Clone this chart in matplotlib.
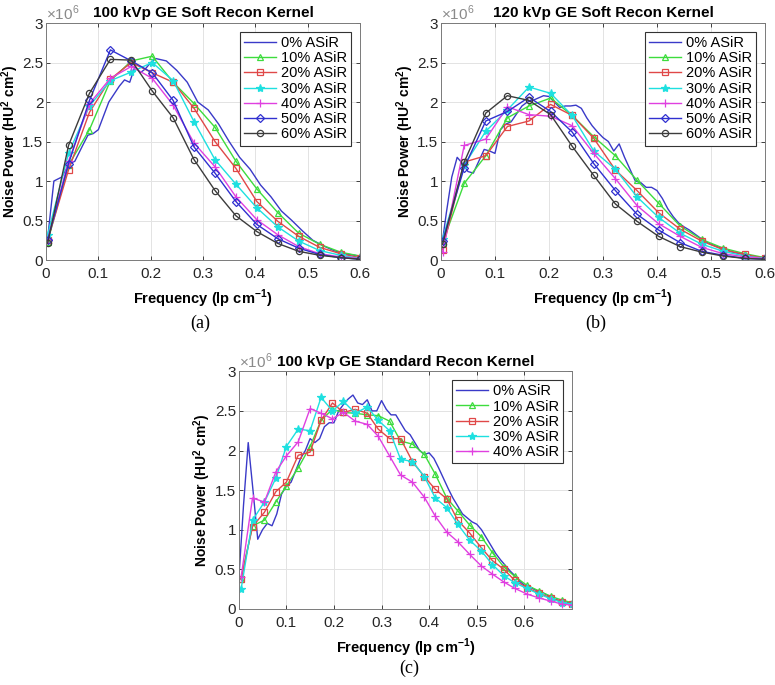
import matplotlib.pyplot as plt
import numpy as np
from matplotlib.ticker import FuncFormatter, MultipleLocator

plt.rcParams['font.family'] = ['Liberation Sans', 'DejaVu Sans']
plt.rcParams['mathtext.fontset'] = 'custom'
plt.rcParams['mathtext.rm'] = 'Liberation Sans'
plt.rcParams['mathtext.bf'] = 'Liberation Sans:bold'

# ---------------- data (values in units of 1e6 HU^2 cm^2) ----------------
# panel (a): 100 kVp soft kernel
fa_m = [0.003, 0.043, 0.083, 0.123, 0.163, 0.203, 0.243, 0.283, 0.323, 0.363,
        0.403, 0.443, 0.483, 0.523, 0.563, 0.600]
a10 = [0.23, 1.20, 1.65, 2.27, 2.52, 2.58, 2.25, 1.98, 1.68, 1.25, 0.90, 0.60, 0.34, 0.20, 0.10, 0.05]
a20 = [0.25, 1.14, 1.87, 2.29, 2.50, 2.37, 2.25, 1.92, 1.50, 1.16, 0.74, 0.49, 0.30, 0.16, 0.08, 0.03]
a30 = [0.32, 1.35, 1.95, 2.27, 2.38, 2.50, 2.27, 1.75, 1.27, 0.96, 0.66, 0.42, 0.24, 0.12, 0.06, 0.02]
a40 = [0.26, 1.25, 1.98, 2.30, 2.45, 2.30, 1.96, 1.48, 1.18, 0.80, 0.51, 0.32, 0.17, 0.08, 0.04, 0.02]
a50 = [0.25, 1.22, 2.02, 2.66, 2.52, 2.37, 2.02, 1.43, 1.10, 0.74, 0.45, 0.27, 0.15, 0.07, 0.03, 0.01]
a60 = [0.21, 1.45, 2.11, 2.54, 2.53, 2.14, 1.80, 1.27, 0.88, 0.56, 0.36, 0.21, 0.11, 0.06, 0.03, 0.01]
fa_0 = [0.003, 0.015, 0.03, 0.045, 0.055, 0.07, 0.08, 0.09, 0.10, 0.12, 0.14, 0.15, 0.16, 0.17,
        0.18, 0.19, 0.20, 0.21, 0.23, 0.25, 0.27, 0.29, 0.31, 0.33, 0.35, 0.37, 0.39, 0.41,
        0.43, 0.45, 0.47, 0.49, 0.51, 0.53, 0.55, 0.57, 0.60]
a0 = [0.27, 1.00, 1.05, 1.22, 1.25, 1.45, 1.58, 1.60, 1.65, 2.00, 2.20, 2.28, 2.25, 2.45,
      2.37, 2.42, 2.50, 2.55, 2.52, 2.40, 2.25, 2.00, 1.90, 1.72, 1.50, 1.30, 1.15, 0.95,
      0.80, 0.62, 0.50, 0.37, 0.25, 0.18, 0.12, 0.08, 0.05]

# panel (b): 120 kVp soft kernel
b10 = [0.22, 0.97, 1.32, 1.80, 1.95, 2.05, 1.83, 1.56, 1.32, 1.01, 0.72, 0.43, 0.26, 0.15, 0.08, 0.03]
b20 = [0.13, 1.24, 1.32, 1.69, 1.76, 1.97, 1.83, 1.54, 1.14, 0.88, 0.60, 0.39, 0.24, 0.13, 0.07, 0.02]
b30 = [0.27, 1.20, 1.63, 1.90, 2.19, 2.11, 1.83, 1.38, 1.15, 0.80, 0.54, 0.34, 0.20, 0.11, 0.05, 0.02]
b40 = [0.10, 1.45, 1.53, 1.94, 1.84, 1.82, 1.70, 1.35, 1.03, 0.69, 0.46, 0.30, 0.16, 0.08, 0.04, 0.02]
b50 = [0.24, 1.17, 1.76, 1.88, 2.06, 1.88, 1.62, 1.22, 0.88, 0.58, 0.38, 0.22, 0.11, 0.06, 0.02, 0.01]
b60 = [0.20, 1.24, 1.86, 2.08, 2.02, 1.84, 1.44, 1.07, 0.71, 0.49, 0.30, 0.17, 0.10, 0.05, 0.02, 0.01]
fb_0 = [0.003, 0.01, 0.02, 0.03, 0.04, 0.05, 0.06, 0.07, 0.08, 0.09, 0.10, 0.11, 0.12, 0.13,
        0.14, 0.15, 0.16, 0.17, 0.18, 0.19, 0.20, 0.21, 0.22, 0.23, 0.24, 0.25, 0.26, 0.27,
        0.28, 0.29, 0.30, 0.31, 0.32, 0.33, 0.34, 0.35, 0.36, 0.37, 0.38, 0.39, 0.40, 0.41,
        0.42, 0.43, 0.44, 0.45, 0.46, 0.47, 0.48, 0.49, 0.50, 0.52, 0.54, 0.56, 0.58, 0.60]
b0 = [0.25, 0.60, 1.05, 1.30, 1.22, 1.12, 1.10, 1.25, 1.40, 1.38, 1.35, 1.65, 1.72, 1.75,
      1.85, 1.95, 2.00, 2.02, 2.05, 2.08, 2.07, 2.00, 1.93, 1.95, 1.95, 1.96, 1.92, 1.80,
      1.70, 1.62, 1.55, 1.50, 1.38, 1.47, 1.30, 1.15, 1.00, 0.98, 0.92, 0.92, 0.88, 0.78,
      0.65, 0.55, 0.47, 0.42, 0.38, 0.33, 0.28, 0.23, 0.20, 0.15, 0.10, 0.07, 0.04, 0.03]

# panel (c): 100 kVp standard kernel
fc_m = [0.005, 0.029, 0.054, 0.078, 0.100, 0.125, 0.150, 0.173, 0.197, 0.220, 0.245, 0.270,
        0.293, 0.317, 0.340, 0.365, 0.390, 0.413, 0.437, 0.460, 0.485, 0.510, 0.533, 0.557,
        0.580, 0.605, 0.630, 0.655, 0.680, 0.700]
c10 = [0.38, 1.05, 1.12, 1.35, 1.55, 1.78, 2.05, 2.38, 2.52, 2.48, 2.47, 2.45, 2.44, 2.37, 2.12,
       2.08, 1.95, 1.70, 1.40, 1.24, 1.06, 0.91, 0.71, 0.53, 0.41, 0.30, 0.23, 0.16, 0.11, 0.08]
c20 = [0.38, 1.04, 1.22, 1.48, 1.60, 1.94, 1.98, 2.38, 2.60, 2.48, 2.52, 2.47, 2.27, 2.15, 2.15,
       1.86, 1.67, 1.51, 1.39, 1.12, 0.96, 0.77, 0.61, 0.50, 0.36, 0.27, 0.20, 0.14, 0.09, 0.06]
c30 = [0.25, 1.12, 1.35, 1.65, 2.05, 2.27, 2.25, 2.67, 2.50, 2.62, 2.47, 2.55, 2.38, 2.25, 1.89,
       1.86, 1.67, 1.40, 1.28, 1.07, 0.87, 0.73, 0.56, 0.42, 0.33, 0.26, 0.19, 0.13, 0.08, 0.06]
c40 = [0.40, 1.40, 1.35, 1.73, 1.93, 2.11, 2.53, 2.47, 2.40, 2.48, 2.37, 2.33, 2.18, 1.93, 1.69,
       1.60, 1.41, 1.17, 0.97, 0.85, 0.69, 0.54, 0.44, 0.34, 0.26, 0.19, 0.14, 0.10, 0.06, 0.05]
fc_0 = [0.0, 0.01, 0.02, 0.03, 0.04, 0.05, 0.06, 0.07, 0.08, 0.09, 0.10, 0.11, 0.12, 0.13, 0.14,
        0.15, 0.16, 0.17, 0.18, 0.19, 0.20, 0.21, 0.22, 0.23, 0.24, 0.25, 0.26, 0.27, 0.28, 0.29,
        0.30, 0.31, 0.32, 0.33, 0.34, 0.35, 0.36, 0.37, 0.38, 0.39, 0.40, 0.41, 0.42, 0.43, 0.44,
        0.45, 0.46, 0.47, 0.48, 0.49, 0.50, 0.51, 0.52, 0.53, 0.54, 0.55, 0.56, 0.57, 0.58, 0.59,
        0.60, 0.61, 0.62, 0.63, 0.64, 0.65, 0.66, 0.67, 0.68, 0.69, 0.70]
c0 = [0.35, 1.30, 2.10, 1.50, 0.88, 1.00, 1.08, 1.05, 1.20, 1.45, 1.55, 1.60, 1.75, 1.90, 2.00,
      2.15, 2.10, 2.15, 2.30, 2.35, 2.35, 2.50, 2.58, 2.65, 2.70, 2.60, 2.58, 2.64, 2.50, 2.50,
      2.63, 2.52, 2.45, 2.45, 2.35, 2.25, 2.20, 2.10, 2.00, 1.95, 1.97, 1.90, 1.78, 1.65, 1.52,
      1.40, 1.30, 1.20, 1.15, 1.10, 1.07, 1.00, 0.90, 0.80, 0.70, 0.62, 0.55, 0.48, 0.42, 0.35,
      0.30, 0.28, 0.25, 0.22, 0.20, 0.17, 0.14, 0.11, 0.09, 0.08, 0.07]

labels = ['0% ASiR', '10% ASiR', '20% ASiR', '30% ASiR', '40% ASiR', '50% ASiR', '60% ASiR']
colors = ['#3a3ac8', '#3ddc3d', '#e04848', '#1ee0e0', '#e040e0', '#3030d0', '#3c3c3c']
markers = [None, '^', 's', '*', '+', 'D', 'o']

tick_col = '#262626'


def style_axes(ax, xmax, title):
    ax.set_xlim(0, xmax)
    ax.set_ylim(0, 3)
    ax.xaxis.set_major_locator(MultipleLocator(0.1))
    ax.yaxis.set_major_locator(MultipleLocator(0.5))
    fmt = FuncFormatter(lambda v, p: '%g' % round(v, 2))
    ax.xaxis.set_major_formatter(fmt)
    ax.yaxis.set_major_formatter(fmt)
    if xmax > 0.65:
        ax.set_xticks([0, 0.1, 0.2, 0.3, 0.4, 0.5, 0.6])
    ax.tick_params(direction='in', top=True, right=True, length=3, labelsize=11,
                   colors=tick_col, width=0.6)
    ax.tick_params(axis='x', pad=5)
    ax.tick_params(axis='y', pad=2)
    ax.grid(True, color='#e3e3e3', linewidth=0.7)
    ax.set_axisbelow(True)
    for s in ax.spines.values():
        s.set_color('#7a7a7a')
        s.set_linewidth(0.7)
    ax.set_title(title, fontsize=11, fontweight='bold', pad=4)
    ax.set_xlabel('Frequency (lp cm$^{\\mathbf{-1}}$)', fontsize=10.5, fontweight='bold',
                  labelpad=5)
    ax.set_ylabel('Noise Power (HU$^{\\mathbf{2}}$ cm$^{\\mathbf{2}}$)', fontsize=10,
                  fontweight='bold', labelpad=1)
    ax.text(0.0, 1.0, '$\\times$10$^{6}$', transform=ax.transAxes, fontsize=11,
            color='#8a8a8a', ha='left', va='bottom')


def draw(ax, f0, y0, fm, series):
    ax.plot(f0, y0, color=colors[0], lw=1.0, label=labels[0])
    for i, ys in enumerate(series, start=1):
        ms = 6 if markers[i] == '*' else (6 if markers[i] == '+' else 4.5)
        ax.plot(fm, ys, color=colors[i], lw=1.0, marker=markers[i], ms=ms,
                mfc=colors[i] if markers[i] == '*' else 'none',
                mec=colors[i], mew=0.9, label=labels[i])
    leg = ax.legend(loc='upper right', fontsize=10.5, frameon=True, fancybox=False,
                    edgecolor='#333333', framealpha=1, handlelength=2.2, handletextpad=0.3,
                    labelspacing=0.08, borderpad=0.3, borderaxespad=0.6)
    leg.get_frame().set_linewidth(0.8)


fig = plt.figure(figsize=(7.75, 6.85), dpi=100)

axa = fig.add_axes([0.0594, 0.6204, 0.405, 0.346])
draw(axa, fa_0, a0, fa_m, [a10, a20, a30, a40, a50, a60])
style_axes(axa, 0.6, '100 kVp GE Soft Recon Kernel')

axb = fig.add_axes([0.569, 0.6204, 0.418, 0.346])
draw(axb, fb_0, b0, fa_m, [b10, b20, b30, b40, b50, b60])
style_axes(axb, 0.6, '120 kVp GE Soft Recon Kernel')

axc = fig.add_axes([0.308, 0.111, 0.43, 0.347])
draw(axc, fc_0, c0, fc_m, [c10, c20, c30, c40])
style_axes(axc, 0.7, '100 kVp GE Standard Recon Kernel')

fig.text(200 / 775, 1 - 323 / 685, '(a)', family='Liberation Serif', fontsize=13,
         ha='center', va='center')
fig.text(596 / 775, 1 - 323 / 685, '(b)', family='Liberation Serif', fontsize=13,
         ha='center', va='center')
fig.text(409 / 775, 1 - 668 / 685, '(c)', family='Liberation Serif', fontsize=13,
         ha='center', va='center')

fig.savefig('out.png', dpi=100)
